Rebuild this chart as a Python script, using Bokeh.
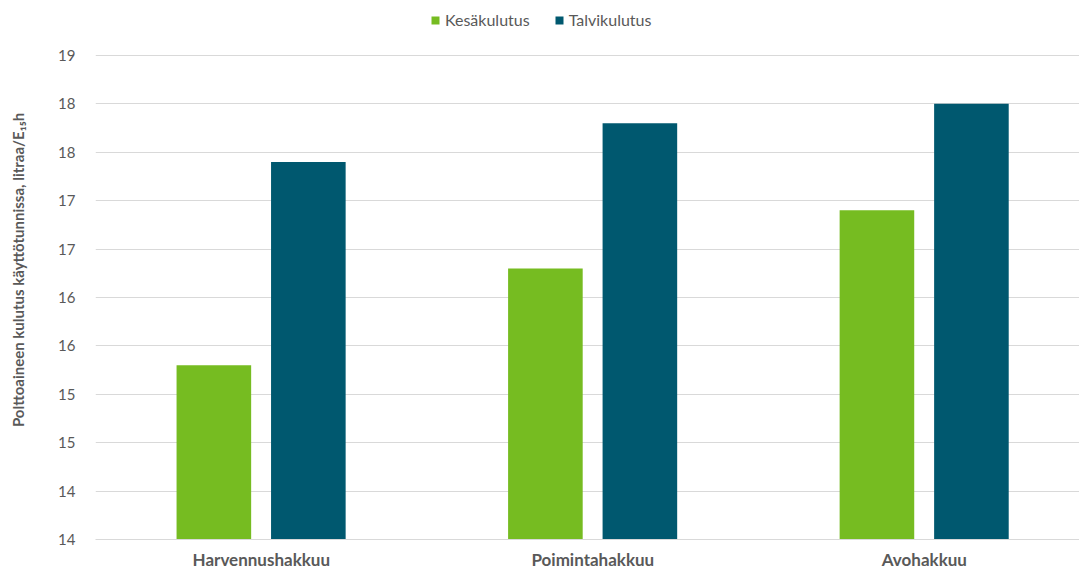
from bokeh.plotting import figure
from bokeh.models import ColumnDataSource, Legend, LegendItem, Range1d, FixedTicker
from bokeh.transform import dodge
from bokeh.embed import file_html
from bokeh.resources import INLINE

categories = ["Harvennushakkuu", "Poimintahakkuu", "Avohakkuu"]
kesakulutus = [15.8, 16.8, 17.4]
talvikulutus = [17.9, 18.3, 18.5]
series_names = ["Kesäkulutus", "Talvikulutus"]
tick_values = [14, 14.5, 15, 15.5, 16, 16.5, 17, 17.5, 18, 18.5, 19]
tick_labels = ["14", "14", "15", "15", "16", "16", "17", "17", "18", "18", "19"]
y_title = "Polttoaineen kulutus käyttötunnissa, litraa/E₁₅h"

FONT = "Lato"
GREEN = "#76bc21"
TEAL = "#00586f"
GREY = "#595959"

xpos = [i + 0.5 for i in range(len(categories))]
src = ColumnDataSource(dict(x=xpos, k=kesakulutus, t=talvikulutus))

# frame reaches the top of the canvas so the legend can sit above the 19 gridline
p = figure(width=1079, height=572, output_backend="svg", toolbar_location=None,
           x_range=Range1d(0, 2.968), y_range=Range1d(14, 19.567),
           min_border_left=95, min_border_right=0, min_border_bottom=32, min_border_top=0)
p.outline_line_color = None
p.background_fill_color = "white"
p.border_fill_color = "white"

r1 = p.vbar(x=dodge("x", -0.143), top="k", bottom=14, width=0.225, source=src,
            fill_color=GREEN, line_color=None)
r2 = p.vbar(x=dodge("x", 0.142), top="t", bottom=14, width=0.225, source=src,
            fill_color=TEAL, line_color=None)

# x axis
p.xaxis.ticker = FixedTicker(ticks=xpos)
p.xaxis.major_label_overrides = {x: c for x, c in zip(xpos, categories)}
p.xaxis.major_tick_line_color = None
p.xaxis.minor_tick_line_color = None
p.xaxis.axis_line_color = "#d9d9d9"
p.xaxis.axis_line_width = 1
p.xaxis.major_label_text_font = FONT
p.xaxis.major_label_text_font_style = "bold"
p.xaxis.major_label_text_font_size = "17px"
p.xaxis.major_label_text_color = GREY
p.xaxis.major_label_standoff = 3
p.xgrid.grid_line_color = None

# y axis
p.yaxis.ticker = FixedTicker(ticks=tick_values)
p.yaxis.major_label_overrides = {v: l for v, l in zip(tick_values, tick_labels)}
p.yaxis.major_tick_line_color = None
p.yaxis.minor_tick_line_color = None
p.yaxis.axis_line_color = None
p.yaxis.major_label_text_font = FONT
p.yaxis.major_label_text_font_size = "15px"
p.yaxis.major_label_text_color = GREY
p.yaxis.major_label_standoff = 14
p.yaxis.axis_label = y_title
p.yaxis.axis_label_text_font = FONT
p.yaxis.axis_label_text_font_style = "bold"
p.yaxis.axis_label_text_font_size = "15px"
p.yaxis.axis_label_text_color = GREY
p.yaxis.axis_label_standoff = 28
p.ygrid.grid_line_color = "#d9d9d9"
p.ygrid.grid_line_width = 1

legend = Legend(items=[LegendItem(label=series_names[0], renderers=[r1]),
                       LegendItem(label=series_names[1], renderers=[r2])],
                orientation="horizontal", location=(335, 510),
                label_text_font=FONT, label_text_font_size="16px", label_text_color=GREY,
                glyph_width=10, glyph_height=10, label_standoff=5, spacing=24,
                label_height=16,
                border_line_color=None, background_fill_alpha=0, padding=0, margin=0)
p.add_layout(legend)

open("out.html", "w").write(file_html(p, INLINE))
